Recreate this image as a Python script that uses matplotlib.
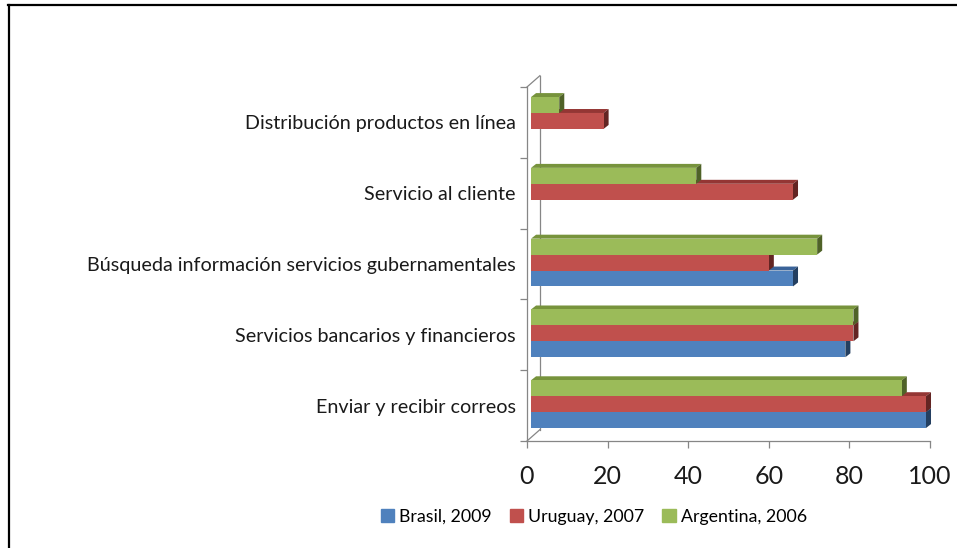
"""
Horizontal 3D-style bar chart: usos de internet por pais (Brasil, Uruguay, Argentina).
"""
import matplotlib
matplotlib.use('Agg')
import matplotlib.pyplot as plt
import matplotlib.patches as mpatches
from matplotlib.lines import Line2D
import numpy as np

# ─── Data ───────────────────────────────────────────────────────────────────
categories = [
    'Enviar y recibir correos',
    'Servicios bancarios y financieros',
    'Búsqueda información servicios gubernamentales',
    'Servicio al cliente',
    'Distribución productos en línea',
]
brasil = [98, 78, 65, np.nan, np.nan]
uruguay = [98, 80, 59, 65, 18]
argentina = [92, 80, 71, 41, 7]
series_names = ['Brasil, 2009', 'Uruguay, 2007', 'Argentina, 2006']
x_ticks = [0, 20, 40, 60, 80, 100]

# front / top / side colours per series
colors = [
    ('#4F81BD', '#3A6399', '#243F60'),
    ('#C0504D', '#943634', '#632523'),
    ('#9BBB59', '#77933C', '#4F6228'),
]
FONT = ['Lato', 'DejaVu Sans']
AX_GRAY = '#868686'

W, H = 957, 548
fig = plt.figure(figsize=(W / 100, H / 100), dpi=100)
ax = fig.add_axes([527 / W, 1 - 441 / H, (930 - 527) / W, (441 - 87) / H])
ax.set_xlim(0, 100)
ax.set_ylim(-0.5, 4.5)

# 3D projection parameters (data units)
x0 = 1.0        # front plane shift
dx, dy = 1.25, 0.056
bar_h = 0.225
first = -0.317

y = np.arange(len(categories))
for i, (vals, name, (c_front, c_top, c_side)) in enumerate(
        zip([brasil, uruguay, argentina], series_names, colors)):
    bottom = y + first + i * bar_h
    centers = bottom + bar_h / 2
    vals = np.array(vals, dtype=float)
    z = 3 + i
    bars = ax.barh(centers, np.nan_to_num(vals), height=bar_h, left=x0,
                   color=c_front, edgecolor='none', zorder=z + 0.5, label=name)
    for bar, v in zip(bars, vals):
        bar.set_clip_on(False)
        if np.isnan(v):
            bar.set_visible(False)
            continue
        bx, by = bar.get_x(), bar.get_y()
        bw, bh = bar.get_width(), bar.get_height()
        top = mpatches.Polygon([(bx, by + bh), (bx + bw, by + bh),
                                (bx + bw + dx, by + bh + dy), (bx + dx, by + bh + dy)],
                               closed=True, facecolor=c_top, edgecolor='none', zorder=z,
                               clip_on=False)
        side = mpatches.Polygon([(bx + bw, by), (bx + bw + dx, by + dy),
                                 (bx + bw + dx, by + bh + dy), (bx + bw, by + bh)],
                                closed=True, facecolor=c_side, edgecolor='none', zorder=z,
                                clip_on=False)
        ax.add_patch(top)
        ax.add_patch(side)

# back wall / floor of the 3D box
wx, wy = 3.2, 0.16
ax.plot([wx, wx], [-0.5 + wy, 4.5 + wy], color=AX_GRAY, lw=0.9, zorder=1, clip_on=False)
ax.plot([0, wx], [4.5, 4.5 + wy], color=AX_GRAY, lw=0.9, zorder=1, clip_on=False)
ax.plot([0, wx], [-0.5, -0.5 + wy], color=AX_GRAY, lw=0.9, zorder=1, clip_on=False)

# axes styling
for s in ['top', 'right']:
    ax.spines[s].set_visible(False)
for s in ['left', 'bottom']:
    ax.spines[s].set_color(AX_GRAY)
    ax.spines[s].set_linewidth(0.9)

ax.set_yticks(y)
ax.set_yticklabels(categories, fontsize=14.2, family=FONT, color='#1a1a1a')
ax.set_yticks(np.arange(-0.5, len(categories)), minor=True)
ax.tick_params(axis='y', which='major', length=0, pad=8)
ax.tick_params(axis='y', which='minor', length=5, color=AX_GRAY, width=0.9)

ax.set_xticks(x_ticks)
ax.set_xticklabels([str(t) for t in x_ticks], fontsize=18, family=FONT, color='#1a1a1a')
ax.tick_params(axis='x', length=5, color=AX_GRAY, width=0.9, pad=12)

# legend
handles = [mpatches.Patch(color=c[0]) for c in colors]
fig.legend(handles, series_names, loc='center', ncol=3,
           bbox_to_anchor=(594 / W, 1 - 517 / H), frameon=False,
           prop={'family': FONT, 'size': 12.8}, handlelength=0.75, handleheight=0.75,
           handletextpad=0.3, columnspacing=1.0)

# outer frame (only top and left visible)
fig.add_artist(Line2D([8 / W, 1], [1 - 5 / H, 1 - 5 / H], color='black', lw=1.6,
                      transform=fig.transFigure))
fig.add_artist(Line2D([9 / W, 9 / W], [0, 1 - 5 / H], color='black', lw=1.6,
                      transform=fig.transFigure))

fig.savefig('out.png', dpi=100)
plt.close(fig)
